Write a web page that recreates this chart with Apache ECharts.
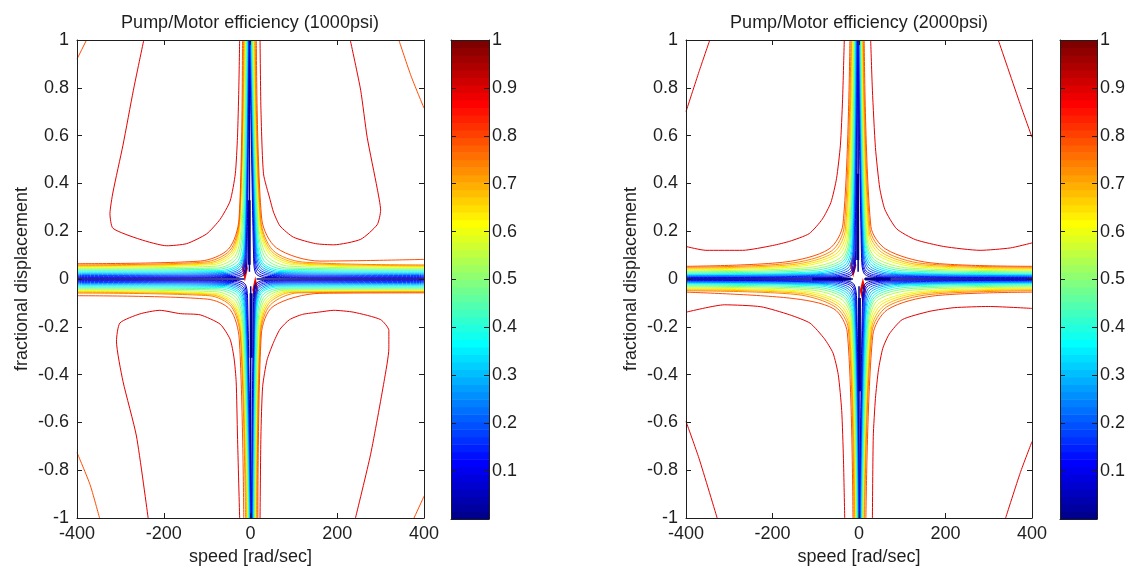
<!DOCTYPE html>
<html><head><meta charset="utf-8">
<script src="https://cdn.jsdelivr.net/npm/echarts/dist/echarts.min.js"></script>
<style>html,body{margin:0;padding:0;background:#fff}#c{width:1133px;height:571px}</style>
</head><body><div id="c"></div>
<script>
// ---------------- DATA ----------------
const titles = ['Pump/Motor efficiency (1000psi)', 'Pump/Motor efficiency (2000psi)'];
const xName = 'speed [rad/sec]';
const yName = 'fractional displacement';
const xRange = [-400, 400, 200];
const yRange = [-1, 1, 0.2];
const cbRange = [0, 1, 0.1];
const levels = [0.05,0.10,0.15,0.20,0.25,0.30,0.35,0.40,0.45,0.50,0.55,0.60,0.65,0.70,0.75,0.80];

// contour arms per quadrant, one row per level:
// [y at side edge, bendX, bendY, kneeX, kneeY, riseX, riseY, x at top/bottom edge]
const p1000_q1 = [
[0.0042,32,0.0063,11.5,0.025,7,0.104,-1.7],[0.0071,40,0.0104,14,0.031,8.5,0.117,-1],
[0.0109,48,0.0146,16.5,0.038,10,0.125,-0.3],[0.0146,53,0.0188,19,0.044,11,0.138,0.4],
[0.0192,58,0.023,21.5,0.050,12,0.150,1.1],[0.0238,63,0.0272,24,0.056,13,0.163,1.8],
[0.0284,68,0.0313,26,0.063,14,0.176,2.5],[0.033,73,0.0355,28,0.069,15,0.188,3.3],
[0.0372,78,0.041,31,0.077,16.5,0.196,4.3],[0.0414,84,0.046,35,0.086,18,0.205,5.3],
[0.0451,90,0.0535,39,0.095,19.5,0.213,6.3],[0.0489,96,0.0606,43,0.1045,21,0.2215,7.3],
[0.0522,104,0.064,46,0.1095,22,0.2286,8.5],[0.0556,112,0.0669,49,0.1145,23,0.2357,9.7],
[0.0589,120,0.071,52,0.1195,24,0.2424,11],[0.082,160,0.075,60,0.130,26,0.25,13.5]];
const p1000_q2 = [
[0.0042,-32,0.0063,-11.5,0.025,-8,0.104,-3.3],[0.0071,-39,0.0104,-13.8,0.031,-9.7,0.117,-4],
[0.0109,-46,0.0146,-16,0.038,-11.5,0.125,-4.7],[0.0146,-51,0.0188,-18.4,0.044,-12.4,0.138,-5.4],
[0.0192,-55,0.023,-20.7,0.050,-13.4,0.150,-6.1],[0.0238,-60,0.0272,-23,0.056,-14,0.163,-6.8],
[0.0284,-65,0.0313,-24.2,0.063,-14.5,0.176,-7.5],[0.033,-69,0.0355,-25.4,0.069,-15,0.188,-8.3],
[0.0372,-73,0.041,-28.8,0.077,-17.3,0.196,-9.3],[0.0414,-76,0.046,-32.3,0.086,-19.6,0.205,-10.3],
[0.0451,-81,0.0535,-35.7,0.095,-21.9,0.213,-11.3],[0.0489,-85,0.0606,-39.2,0.1045,-24.2,0.2215,-12.3],
[0.0522,-92,0.064,-42,0.1095,-24.9,0.2286,-13.5],[0.0556,-99,0.0669,-44.7,0.1145,-25.4,0.2357,-14.7],
[0.0589,-106,0.071,-47.5,0.1195,-25.8,0.2424,-16],[0.064,-115,0.0752,-50.7,0.1254,-26.5,0.2508,-18.5]];
const p1000_q3 = [
[-0.0042,-30,-0.0063,-11,-0.025,-6.5,-0.10,1.2],[-0.0071,-37,-0.0104,-13,-0.031,-8,-0.112,0.5],
[-0.0109,-44,-0.0146,-15.5,-0.037,-9.5,-0.122,-0.3],[-0.0146,-49,-0.0188,-17.5,-0.043,-10.5,-0.135,-1.0],
[-0.0192,-54,-0.023,-19.5,-0.049,-11.5,-0.147,-1.8],[-0.0238,-58,-0.0272,-21.5,-0.055,-12.5,-0.16,-2.6],
[-0.0284,-62,-0.0313,-23.5,-0.061,-13.5,-0.172,-3.4],[-0.033,-66,-0.0355,-25.5,-0.067,-14.5,-0.184,-4.2],
[-0.0372,-70,-0.041,-28,-0.075,-16,-0.192,-5.0],[-0.0414,-74,-0.046,-31,-0.083,-17.5,-0.2,-5.8],
[-0.0451,-78,-0.0535,-34,-0.092,-19,-0.208,-6.6],[-0.0489,-82,-0.06,-37,-0.1,-20.5,-0.216,-7.4],
[-0.0522,-86,-0.0635,-39.5,-0.105,-21.5,-0.223,-8.4],[-0.0556,-90,-0.0665,-42,-0.11,-22.5,-0.23,-9.5],
[-0.0589,-95,-0.07,-44.5,-0.115,-23.5,-0.237,-11.5],[-0.070,-100,-0.084,-47,-0.128,-26,-0.25,-15.5]];
const p1000_q4 = [
[-0.0042,30,-0.006,11,-0.023,7,-0.095,2.5],[-0.0071,36,-0.0098,13,-0.029,8.5,-0.106,3.3],
[-0.0109,42,-0.0138,15,-0.035,10,-0.115,4.1],[-0.0146,47,-0.0176,17,-0.04,11,-0.127,4.9],
[-0.0192,51,-0.0216,19,-0.046,12,-0.138,5.7],[-0.0238,55,-0.0256,21,-0.051,12.5,-0.15,6.5],
[-0.0284,59,-0.0296,22.5,-0.057,13,-0.162,7.4],[-0.033,63,-0.0336,24,-0.062,13.5,-0.173,8.3],
[-0.0372,67,-0.0385,27,-0.069,15.5,-0.18,9.2],[-0.0414,71,-0.043,30,-0.077,17.5,-0.188,10.1],
[-0.0451,76,-0.0475,33,-0.085,19,-0.196,11],[-0.0489,81,-0.0515,36,-0.093,20.5,-0.204,12],
[-0.051,88,-0.054,39,-0.098,21.5,-0.21,13],[-0.053,95,-0.056,42,-0.103,22.5,-0.216,14],
[-0.055,110,-0.058,46,-0.108,23.5,-0.222,15],[-0.058,160,-0.06,52,-0.115,25,-0.23,17]];

const p2000_q1 = [
[0.0033,38,0.0063,12.5,0.021,6,0.085,-1.5],[0.0059,46,0.0096,14.6,0.027,7.2,0.093,-0.8],
[0.0084,54,0.013,16.6,0.033,8.5,0.101,0],[0.0113,62,0.0163,19.8,0.04,9.6,0.109,0.8],
[0.0142,71,0.0196,22.9,0.046,10.7,0.117,1.6],[0.0167,79,0.0226,26,0.052,11.7,0.128,2.4],
[0.0192,87,0.0259,29.2,0.0585,12.6,0.139,3.2],[0.0217,94,0.0293,32.5,0.0648,14,0.148,4],
[0.0259,100,0.0347,34.6,0.0719,15.4,0.155,4.8],[0.0301,106,0.0401,36.6,0.079,16.8,0.162,5.6],
[0.0343,114,0.046,39.5,0.0878,18.4,0.17,6.4],[0.0385,125,0.052,43.7,0.0982,20,0.178,7.2],
[0.0418,132,0.0564,48.2,0.1045,21.8,0.188,8],[0.0456,138,0.0606,52.8,0.1108,23.5,0.198,9],
[0.0493,146,0.0652,57.4,0.117,25.5,0.208,10],[0.053,164,0.068,62,0.125,27.5,0.22,12]];
const p2000_q2 = [
[0.0033,-41.6,0.0063,-13.9,0.0209,-8.1,0.092,-3],[0.0059,-50.9,0.0096,-16.2,0.0272,-9.7,0.1,-4],
[0.0084,-60.1,0.013,-18.5,0.0334,-11.6,0.109,-5],[0.0113,-69.4,0.0163,-22,0.0397,-12.9,0.117,-6],
[0.0142,-78.6,0.0196,-25.4,0.046,-14.3,0.125,-7],[0.0167,-87.9,0.0226,-28.9,0.0522,-15.5,0.138,-8],
[0.0192,-97.1,0.0259,-32.4,0.0585,-16.6,0.15,-9],[0.0217,-104,0.0293,-36.1,0.0648,-18.5,0.159,-10],
[0.0259,-111,0.0347,-38.4,0.0719,-20.3,0.165,-11],[0.0301,-118,0.0401,-40.7,0.079,-22.2,0.171,-12],
[0.0343,-127,0.046,-43.9,0.0878,-24.5,0.18,-13],[0.0385,-139,0.0522,-48.6,0.0982,-26.8,0.188,-14],
[0.0418,-146,0.0564,-53.6,0.1045,-29.1,0.1985,-15.5],[0.0456,-153,0.0606,-58.7,0.1108,-31.4,0.209,-17],
[0.0493,-162,0.0652,-63.8,0.117,-34.2,0.2194,-18.5],[0.053,-171,0.0711,-69.4,0.1254,-37,0.23,-21]];
const p2000_q3 = [
[-0.0033,-36,-0.0063,-12,-0.021,-5.5,-0.085,0.5],[-0.0059,-44,-0.0096,-14,-0.027,-6.8,-0.093,0],
[-0.0084,-52,-0.013,-16,-0.033,-8,-0.101,-0.8],[-0.0113,-60,-0.0163,-19,-0.04,-9.2,-0.109,-1.6],
[-0.0142,-68,-0.0196,-22,-0.046,-10.3,-0.117,-2.4],[-0.0167,-76,-0.0226,-25,-0.052,-11.3,-0.128,-3.2],
[-0.0192,-84,-0.0259,-28,-0.0585,-12.3,-0.139,-4],[-0.0217,-91,-0.0293,-31,-0.0648,-13.6,-0.148,-4.8],
[-0.0259,-97,-0.0347,-33.5,-0.0719,-15,-0.155,-5.6],[-0.0301,-103,-0.0401,-35.5,-0.079,-16.4,-0.162,-6.4],
[-0.0343,-111,-0.046,-38.5,-0.0878,-18,-0.17,-7.2],[-0.0385,-121,-0.052,-42.5,-0.0982,-19.6,-0.178,-8],
[-0.0418,-128,-0.0564,-46.5,-0.1045,-21.2,-0.188,-9],[-0.0456,-135,-0.0606,-50.5,-0.1108,-22.8,-0.198,-10],
[-0.0493,-143,-0.0652,-54.5,-0.117,-24.6,-0.208,-11.5],[-0.055,-160,-0.08,-58,-0.125,-27,-0.225,-14]];
const p2000_q4 = [
[-0.0033,41.6,-0.0063,13.9,-0.0209,8.1,-0.092,1.5],[-0.0059,50.9,-0.0096,16.2,-0.0272,9.7,-0.1,2.2],
[-0.0084,60.1,-0.013,18.5,-0.0334,11.6,-0.109,3],[-0.0113,69.4,-0.0163,22,-0.0397,12.9,-0.117,3.8],
[-0.0142,78.6,-0.0196,25.4,-0.046,14.3,-0.125,4.6],[-0.0167,87.9,-0.0226,28.9,-0.0522,15.5,-0.138,5.4],
[-0.0192,97.1,-0.0259,32.4,-0.0585,16.6,-0.15,6.2],[-0.0217,104,-0.0293,36.1,-0.0648,18.5,-0.159,7],
[-0.0259,111,-0.0347,38.4,-0.0719,20.3,-0.165,7.8],[-0.0301,118,-0.0401,40.7,-0.079,22.2,-0.171,8.6],
[-0.0343,127,-0.046,43.9,-0.0878,24,-0.18,9.4],[-0.0385,139,-0.0522,48.6,-0.0982,25.5,-0.188,10.2],
[-0.0418,146,-0.0564,53.6,-0.1045,27,-0.2,11],[-0.0456,153,-0.0606,58.7,-0.1108,28.5,-0.21,12],
[-0.0493,162,-0.0652,63.8,-0.117,30,-0.22,13],[-0.055,171,-0.0711,66,-0.128,32,-0.235,16]];

// 0.9 contours (U shapes in 1000psi, hyperbolas in 2000psi)
const p1000_top90 = [
[[-246,1],[-270,0.79],[-294,0.56],[-317,0.364],[-324,0.273],[-317,0.212],[-255,0.166],[-193,0.139],[-147,0.148],[-101,0.189],[-70,0.25],[-47,0.326],[-35,0.44],[-30,0.593],[-27,0.79],[-25,1]],
[[22,1],[24,0.715],[30,0.44],[45,0.333],[53,0.28],[68,0.222],[99,0.175],[150,0.148],[192,0.143],[254,0.166],[292,0.227],[300,0.288],[292,0.38],[269,0.593],[254,0.79],[230,1]],
[[-236,-1],[-263,-0.657],[-294,-0.428],[-309,-0.26],[-301,-0.184],[-255,-0.146],[-209,-0.131],[-162,-0.145],[-116,-0.15],[-70,-0.189],[-47,-0.252],[-38,-0.33],[-33,-0.43],[-30,-0.657],[-25,-1]],
[[22,-1],[24,-0.657],[28,-0.45],[38,-0.34],[52,-0.27],[68,-0.21],[90,-0.17],[120,-0.148],[160,-0.138],[192,-0.131],[238,-0.139],[300,-0.17],[319,-0.215],[319,-0.29],[308,-0.428],[277,-0.733],[242,-1]]];
const p2000_top90 = [
[[-400,0.136],[-354,0.12],[-269,0.12],[-200,0.14],[-160,0.158],[-115,0.19],[-85,0.25],[-65,0.32],[-52,0.42],[-43,0.56],[-38,0.75],[-34,1]],
[[27,1],[31,0.79],[38,0.55],[48,0.38],[60,0.29],[87,0.21],[130,0.165],[196,0.136],[280,0.12],[350,0.13],[400,0.151]],
[[-400,-0.139],[-311,-0.108],[-227,-0.116],[-160,-0.15],[-113,-0.185],[-80,-0.25],[-60,-0.31],[-48,-0.4],[-40,-0.55],[-36,-0.75],[-33,-1]],
[[31,-1],[33,-0.66],[38,-0.5],[45,-0.38],[55,-0.29],[70,-0.23],[100,-0.17],[164,-0.135],[220,-0.12],[300,-0.115],[400,-0.123]]];

// corner contours
const p1000_corner = [
[[-400,0.92],[-378,1]], [[342,1],[370,0.85],[400,0.715]],
[[-400,-0.726],[-370,-0.86],[-348,-1]], [[377,-1],[400,-0.909]]];
const p1000_cornerLevel = 0.8;
const p2000_corner = [
[[-400,0.7],[-370,0.867],[-345,1]], [[322,1],[373,0.73],[400,0.593]],
[[-400,-0.596],[-370,-0.75],[-328,-1]], [[339,-1],[373,-0.81],[400,-0.68]]];
const p2000_cornerLevel = 0.9;

// small spurious peaks near the origin (nested diamonds: 0.85, 0.9, 0.95)
const p1000_peak85 = [[[-18.5,0.045],[-12.9,0.09],[-7.3,0.045],[-12.9,0.0]],[[5.5,-0.045],[11,0],[16.5,-0.045],[11,-0.09]]];
const p1000_peak90 = [[[-17,0.045],[-12.9,0.078],[-8.8,0.045],[-12.9,0.012]],[[7,-0.045],[11,-0.012],[15,-0.045],[11,-0.078]]];
const p1000_peak95 = [[[-15.5,0.045],[-12.9,0.066],[-10.3,0.045],[-12.9,0.024]],[[8.5,-0.045],[11,-0.024],[13.5,-0.045],[11,-0.066]]];
const p2000_peak85 = [[[-19.5,0.058],[-13.5,0.1],[-7.5,0.058],[-13.5,0.016]],[[3,-0.048],[9,-0.006],[15,-0.048],[9,-0.09]]];
const p2000_peak90 = [[[-18,0.058],[-13.5,0.088],[-9,0.058],[-13.5,0.028]],[[4.5,-0.048],[9,-0.018],[13.5,-0.048],[9,-0.078]]];
const p2000_peak95 = [[[-16.5,0.058],[-13.5,0.076],[-10.5,0.058],[-13.5,0.04]],[[6,-0.048],[9,-0.03],[12,-0.048],[9,-0.066]]];
const peakLevels = [0.85, 0.9, 0.95];

// lowest-level (dark) core lines along the zero axes
const p1000_core = [[[-400,0],[-14,0]],[[14,0],[400,0]],[[-2.5,1],[-2.5,0.03]],[[0.5,-0.03],[0.5,-1]]];
const p1000_coreThick = [[[-3,0.33],[-3,0.06]],[[1.5,-0.06],[1.5,-0.33]]];
const p2000_core = [[[-400,0],[-14,0]],[[12,0],[400,0]],[[-2,1],[-2,0.03]],[[0,-0.03],[0,-1]]];
const p2000_coreThick = [[[-108,0],[-18,0]],[[14,0],[73,0]],[[-3,0.44],[-3,0.08]],[[1,-0.08],[1,-0.47]]];

// ---------------- RENDERING ----------------
const FONT = '"Liberation Sans", Arial, sans-serif';
const INK = '#1e1e1e';
const FS = 18;
function jet(t){const c=v=>Math.round(255*Math.min(1,Math.max(0,v)));return 'rgb('+c(1.5-Math.abs(4*t-3))+','+c(1.5-Math.abs(4*t-2))+','+c(1.5-Math.abs(4*t-1))+')';}
const CORE = 'rgb(0,0,140)';

const grids = [
  {left:77, top:40, width:347, height:479},
  {left:451, top:40, width:38, height:479},
  {left:686, top:40, width:346, height:479},
  {left:1060, top:40, width:37, height:479}
];
const line = {show:true, onZero:false, lineStyle:{color:INK, width:1}};
const tick = {show:true, inside:true, length:5, lineStyle:{color:INK, width:1}};
const lbl = {fontSize:FS, color:INK, fontFamily:FONT};
const xAxes = [], yAxes = [];
function plotAxes(g){
  xAxes.push({gridIndex:g, type:'value', position:'bottom', min:xRange[0], max:xRange[1], interval:xRange[2], z:10,
    axisLine:line, axisTick:tick, splitLine:{show:false}, axisLabel:Object.assign({margin:7}, lbl),
    name:xName, nameLocation:'middle', nameGap:30, nameTextStyle:lbl});
  xAxes.push({gridIndex:g, type:'value', position:'top', min:xRange[0], max:xRange[1], interval:xRange[2], z:10,
    axisLine:line, axisTick:tick, splitLine:{show:false}, axisLabel:{show:false}});
  yAxes.push({gridIndex:g, type:'value', position:'left', min:yRange[0], max:yRange[1], interval:yRange[2], z:10,
    axisLine:line, axisTick:tick, splitLine:{show:false}, axisLabel:Object.assign({margin:8}, lbl),
    name:yName, nameLocation:'middle', nameGap:46, nameTextStyle:lbl});
  yAxes.push({gridIndex:g, type:'value', position:'right', min:yRange[0], max:yRange[1], interval:yRange[2], z:10,
    axisLine:line, axisTick:tick, splitLine:{show:false}, axisLabel:{show:false}});
}
function cbAxes(g){
  ['bottom','top'].forEach(p=>xAxes.push({gridIndex:g, type:'value', position:p, min:0, max:1, z:10,
    axisLine:line, axisTick:{show:false}, splitLine:{show:false}, axisLabel:{show:false}}));
  yAxes.push({gridIndex:g, type:'value', position:'left', min:cbRange[0], max:cbRange[1], interval:cbRange[2], z:10,
    axisLine:line, axisTick:tick, splitLine:{show:false}, axisLabel:{show:false}});
  yAxes.push({gridIndex:g, type:'value', position:'right', min:cbRange[0], max:cbRange[1], interval:cbRange[2], z:10,
    axisLine:line, axisTick:tick, splitLine:{show:false},
    axisLabel:Object.assign({margin:3, formatter:v=>v===0?'':String(+v.toFixed(1))}, lbl)});
}
// axis index layout: 0,1 = left plot; 2,3 = left colorbar; 4,5 = right plot; 6,7 = right colorbar
plotAxes(0); cbAxes(1); plotAxes(2); cbAxes(3);

const series = [];
function addLine(data, color, ai, w, smooth){
  series.push({type:'line', data, xAxisIndex:ai, yAxisIndex:ai, symbol:'none', showSymbol:false,
    smooth: smooth===undefined?0.3:smooth, silent:true, animation:false, clip:true,
    lineStyle:{color, width:w||1}});
}
function addPlot(ai, quads, top90, corner, cornerLevel, peaks, core, coreThick){
  core.forEach(s=>addLine(s, CORE, ai, 1.5, false));
  coreThick.forEach(s=>addLine(s, CORE, ai, 3, false));
  levels.forEach((L,i)=>{
    quads.forEach(([rows, ex, ey])=>{
      const r = rows[i];
      addLine([[ex,r[0]],[r[1],r[2]],[r[3],r[4]],[r[5],r[6]],[r[7],ey]], jet(L), ai, 1);
    });
  });
  top90.forEach(s=>addLine(s, jet(0.9), ai, 1, 0.2));
  corner.forEach(s=>addLine(s, jet(cornerLevel), ai, 1, 0.2));
  peaks.forEach((set, k)=>{
    series.push({type:'custom', xAxisIndex:ai, yAxisIndex:ai, silent:true, animation:false,
      data: set.map(p=>p[0]),
      renderItem:(params, api)=>{
        const pts = set[params.dataIndex].map(p=>api.coord(p));
        return {type:'polygon', shape:{points:pts},
          style:{fill: k===0 ? '#fff' : 'none', stroke: jet(peakLevels[k]), lineWidth:1.2}};
      }});
  });
}
addPlot(0, [[p1000_q1,400,1],[p1000_q2,-400,1],[p1000_q3,-400,-1],[p1000_q4,400,-1]],
  p1000_top90, p1000_corner, p1000_cornerLevel, [p1000_peak85,p1000_peak90,p1000_peak95], p1000_core, p1000_coreThick);
addPlot(4, [[p2000_q1,400,1],[p2000_q2,-400,1],[p2000_q3,-400,-1],[p2000_q4,400,-1]],
  p2000_top90, p2000_corner, p2000_cornerLevel, [p2000_peak85,p2000_peak90,p2000_peak95], p2000_core, p2000_coreThick);

const cbBins = Array.from({length:64}, (_, i) => i);
[2,6].forEach(ai=>{
  series.push({type:'custom', xAxisIndex:ai, yAxisIndex:ai, silent:true, animation:false,
    data: cbBins.map(i=>[0.5,(i+0.5)/64]),
    renderItem:(params, api)=>{
      const i = cbBins[params.dataIndex];
      const a = api.coord([0, i/64]), b = api.coord([1, (i+1)/64]);
      return {type:'rect', shape:{x:a[0], y:b[1], width:b[0]-a[0], height:a[1]-b[1]+0.6},
        style:{fill: jet((i+1)/64)}};
    }});
});

const chart = echarts.init(document.getElementById('c'), null, {renderer:'canvas'});
chart.setOption({
  animation:false,
  backgroundColor:'#fff',
  title:[
    {text:titles[0], left:245, top:9, textAlign:'center', textStyle:{fontSize:FS, fontWeight:'normal', color:INK, fontFamily:FONT}},
    {text:titles[1], left:854, top:9, textAlign:'center', textStyle:{fontSize:FS, fontWeight:'normal', color:INK, fontFamily:FONT}}
  ],
  grid:grids,
  xAxis:xAxes,
  yAxis:yAxes,
  series
});
</script></body></html>
